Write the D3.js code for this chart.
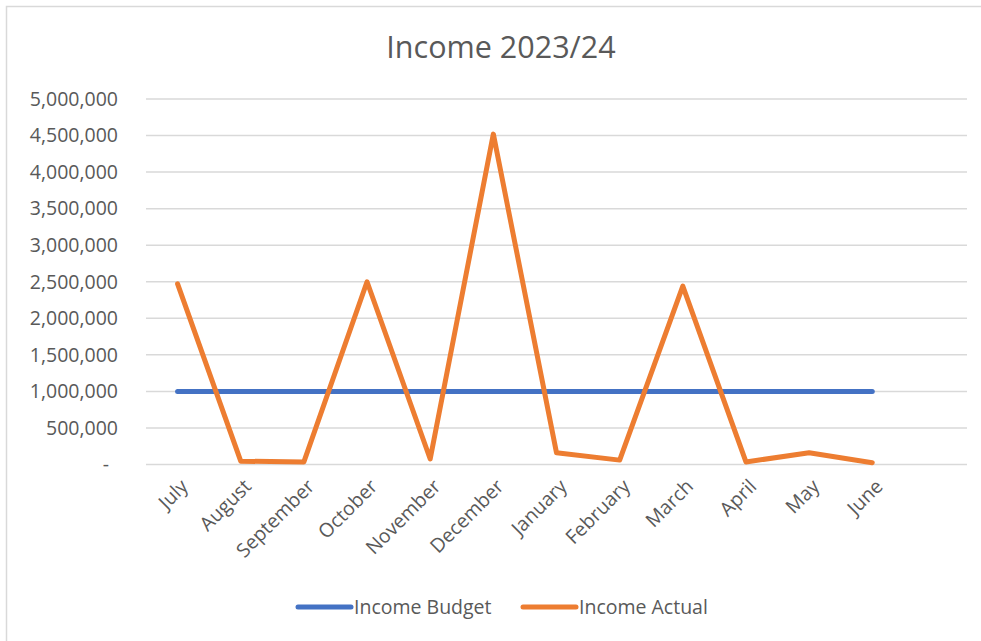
<!DOCTYPE html>
<html>
<head>
<meta charset="utf-8">
<script src="https://cdn.jsdelivr.net/npm/d3@7"></script>
<style>
  body { margin: 0; background: #fff; }
  text { font-family: "Open Sans", sans-serif; fill: #595959; }
</style>
</head>
<body>
<div id="chart"></div>
<script>
// data
const months = ["July", "August", "September", "October", "November", "December",
                "January", "February", "March", "April", "May", "June"]
const incomeBudget = [1000000, 1000000, 1000000, 1000000, 1000000, 1000000,
                      1000000, 1000000, 1000000, 1000000, 1000000, 1000000]
const incomeActual = [2470000, 45000, 35000, 2500000, 75000, 4520000,
                      160000, 60000, 2440000, 35000, 160000, 25000]
const yTicks = d3.range(0, 5000001, 500000)

const width = 981
const height = 641

const svg = d3.select("#chart")
  .append("svg")
  .attr("width", width)
  .attr("height", height)

// chart border
svg.append("rect")
  .attr("x", 6.5).attr("y", 6.5)
  .attr("width", width + 10).attr("height", height + 10)
  .attr("fill", "none")
  .attr("stroke", "#d9d9d9")
  .attr("stroke-width", 1.5)

// Excel range has one empty row after June
const x = d3.scaleBand()
  .domain(months.concat([""]))
  .range([146, 967])

const y = d3.scaleLinear()
  .domain([0, 5000000])
  .range([464.5, 99])

const fmt = d3.format(",")

// gridlines
svg.append("g")
  .selectAll("line")
  .data(yTicks)
  .enter()
  .append("line")
  .attr("x1", x.range()[0])
  .attr("x2", x.range()[1])
  .attr("y1", d => y(d))
  .attr("y2", d => y(d))
  .attr("stroke", "#d9d9d9")
  .attr("stroke-width", 1.5)

// y axis labels
svg.append("g")
  .selectAll("text")
  .data(yTicks)
  .enter()
  .append("text")
  .attr("x", d => d === 0 ? 109 : 118)
  .attr("y", d => y(d))
  .attr("dy", "0.35em")
  .attr("text-anchor", "end")
  .style("font-size", "19.5px")
  .text(d => d === 0 ? "-" : fmt(d))

// x axis labels, rotated
svg.append("g")
  .selectAll("text")
  .data(months)
  .enter()
  .append("text")
  .attr("transform", d => `translate(${x(d) + x.bandwidth() / 2 + 2},478) rotate(-45)`)
  .attr("text-anchor", "end")
  .attr("dy", "0.7em")
  .style("font-size", "19.5px")
  .text(d => d)

const cx = d => x(d) + x.bandwidth() / 2

const line = d3.line()
  .x((d, i) => cx(months[i]))
  .y(d => y(d))

svg.append("path")
  .datum(incomeBudget)
  .attr("d", line)
  .attr("fill", "none")
  .attr("stroke", "#4472c4")
  .attr("stroke-width", 5)
  .attr("stroke-linecap", "round")
  .attr("stroke-linejoin", "round")

svg.append("path")
  .datum(incomeActual)
  .attr("d", line)
  .attr("fill", "none")
  .attr("stroke", "#ed7d31")
  .attr("stroke-width", 5)
  .attr("stroke-linecap", "round")
  .attr("stroke-linejoin", "round")

// title
svg.append("text")
  .attr("x", 501)
  .attr("y", 58)
  .attr("text-anchor", "middle")
  .style("font-size", "30.5px")
  .text("Income 2023/24")

// legend
const legend = [
  { name: "Income Budget", color: "#4472c4", x: 298 },
  { name: "Income Actual", color: "#ed7d31", x: 523 }
]
const lg = svg.append("g")
  .selectAll("g")
  .data(legend)
  .enter()
  .append("g")
  .attr("transform", d => `translate(${d.x},607)`)

lg.append("line")
  .attr("x1", 0).attr("x2", 53)
  .attr("stroke", d => d.color)
  .attr("stroke-width", 5)
  .attr("stroke-linecap", "round")

lg.append("text")
  .attr("x", 56)
  .attr("dy", "0.35em")
  .style("font-size", "19.5px")
  .text(d => d.name)
</script>
</body>
</html>
